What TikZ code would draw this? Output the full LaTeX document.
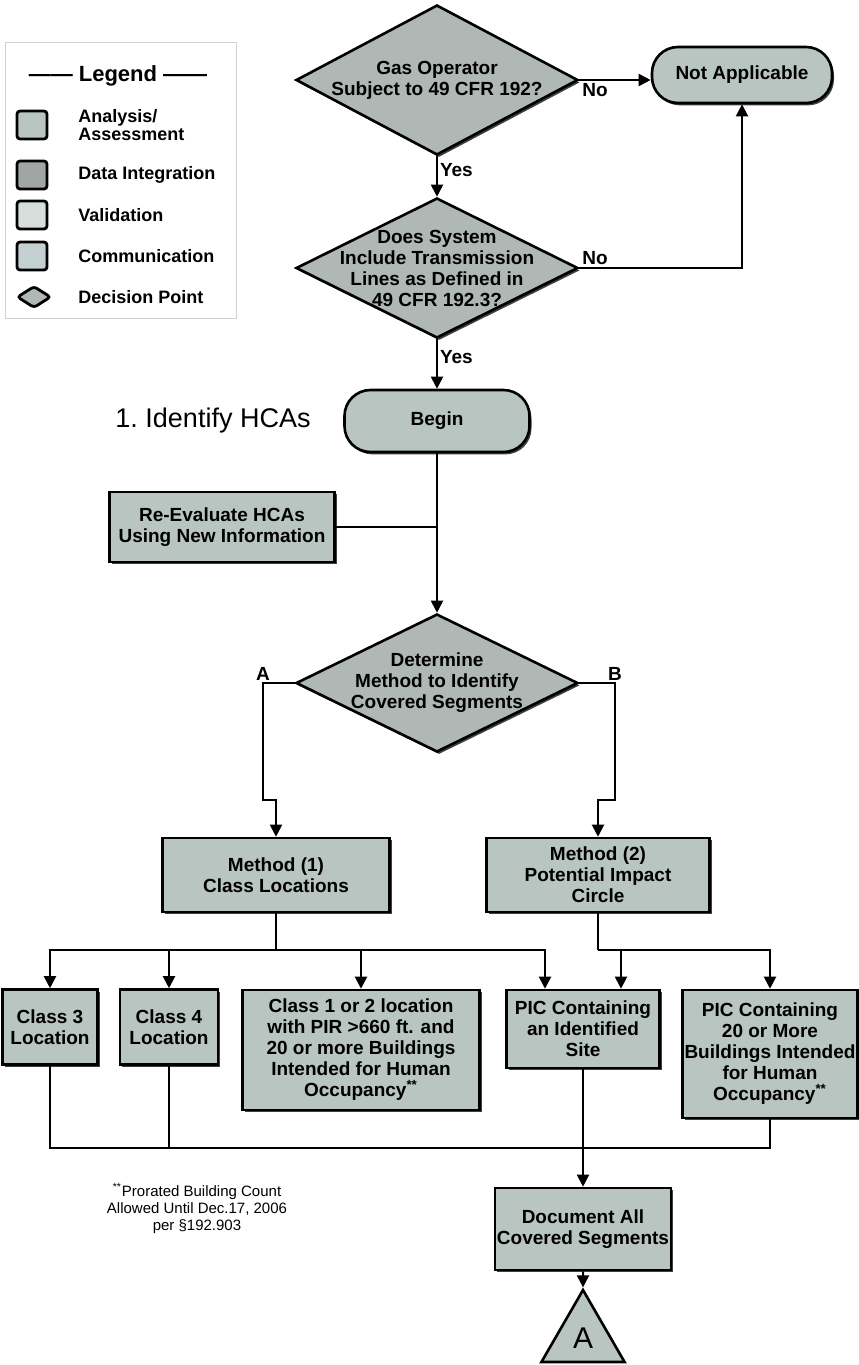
\documentclass[tikz,border=0pt]{standalone}
\usepackage{fontspec}
\setmainfont{Liberation Sans}
\usetikzlibrary{shapes.geometric, arrows.meta, shadows}
\definecolor{analysis}{HTML}{B8C5C1}
\definecolor{dataint}{HTML}{A0A6A4}
\definecolor{valid}{HTML}{D6DDDB}
\definecolor{comm}{HTML}{C3CFD0}
\definecolor{decis}{HTML}{B0B8B5}
\tikzset{
  box/.style={draw, line width=1.3pt, fill=analysis, align=center, inner sep=1pt,
      font=\bfseries\fontsize{9.5}{10.5}\selectfont,
      drop shadow={shadow xshift=1pt, shadow yshift=-1.2pt, fill=black, opacity=0.75}},
  term/.style={box, rounded corners=13pt},
  decision/.style={box, diamond, aspect=2, fill=decis, inner sep=-12pt},
  flow/.style={line width=1pt, -{Triangle[length=6pt, width=6pt]}},
  wire/.style={line width=1pt},
  lbl/.style={font=\bfseries\fontsize{9.5}{10}\selectfont, inner sep=1pt},
  key/.style={draw, line width=1.4pt, rounded corners=1.5pt, inner sep=0pt,
      minimum width=15pt, minimum height=14pt},
  keytext/.style={anchor=west, inner sep=0pt, font=\bfseries\fontsize{9}{7.5}\selectfont},
}
\begin{document}
\begin{tikzpicture}[x=0.5pt, y=-0.5pt]
  \useasboundingbox (0,0) rectangle (858,1365);
  \draw[black!18, line width=0.5pt] (5,42) rectangle (236,318);
  \node[lbl, font=\bfseries\fontsize{11}{13}\selectfont] (legtitle) at (118,76) {------ Legend ------};
  \node[key, fill=analysis] (key1) at (32,125) {};
  \node[keytext, align=left] (txt1) at (78,125) {Analysis/\\Assessment};
  \foreach \i/\y/\c/\t in {2/175/dataint/Data Integration, 3/215/valid/Validation, 4/256/comm/Communication} {
    \node[key, fill=\c] (key\i) at (32,\y) {};
    \node[keytext] (txt\i) at (78,\y) {\t};
  }
  \node[key, diamond, fill=decis, minimum width=17pt, minimum height=11pt] (key5) at (34,297) {};
  \node[keytext] (txt5) at (78,297) {Decision Point};

  \node[decision, minimum width=141pt, minimum height=75pt] (d1) at (437,80) {Gas Operator\\Subject to 49 CFR 192?};
  \node[term, minimum width=90pt, minimum height=28pt] (na) at (742,75) {Not Applicable};
  \node[decision, minimum width=141pt, minimum height=70pt] (d2) at (437,268) {Does System\\Include Transmission\\Lines as Defined in\\49 CFR 192.3?};
  \node[term, minimum width=92.5pt, minimum height=31pt] (begin) at (437,421) {Begin};
  \node[font=\fontsize{13.5}{16}\selectfont] (heading) at (213,421) {1.\ Identify HCAs};
  \node[box, minimum width=112.5pt, minimum height=35pt] (reeval) at (222,527) {Re-Evaluate HCAs\\Using New Information};
  \node[decision, minimum width=141pt, minimum height=69pt] (d3) at (437,683) {Determine\\Method to Identify\\Covered Segments};
  \node[box, minimum width=113.5pt, minimum height=37pt] (m1) at (276,875) {Method (1)\\Class Locations};
  \node[box, minimum width=111.5pt, minimum height=37pt] (m2) at (598,875) {Method (2)\\Potential Impact\\Circle};
  \node[box, minimum width=47.5pt, minimum height=37.5pt] (c3) at (50,1027) {Class 3\\Location};
  \node[box, minimum width=49pt, minimum height=37.5pt] (c4) at (169,1027) {Class 4\\Location};
  \node[box, minimum width=118.5pt, minimum height=60pt] (c12) at (361,1050) {Class 1 or 2 location\\with PIR >660 ft. and\\20 or more Buildings\\Intended for Human\\Occupancy\textsuperscript{**}};
  \node[box, minimum width=76.5pt, minimum height=39pt] (pic1) at (583,1029) {PIC Containing\\an Identified\\Site};
  \node[box, minimum width=87.5pt, minimum height=64pt] (pic2) at (770,1054) {PIC Containing\\20 or More\\Buildings Intended\\for Human\\Occupancy\textsuperscript{**}};
  \node[box, minimum width=72.5pt, minimum height=41pt] (doc) at (583,1229) {Document All\\Covered Segments};
  \node[draw, line width=1.3pt, fill=analysis, regular polygon, regular polygon sides=3, minimum size=48pt, inner sep=0pt,
      font=\fontsize{15}{15}\selectfont] (endA) at (583,1338) {A};
  \node[align=center, font=\fontsize{7.5}{8.5}\selectfont] (note) at (197,1208) {\textsuperscript{**}Prorated Building Count\\Allowed Until Dec.17, 2006\\per §192.903};

  \coordinate (ja) at (263,800);
  \coordinate (jb) at (615,800);
  \coordinate (b1) at (276,950);
  \coordinate (b2) at (598,950);
  \coordinate (b3) at (583,1148);

  \draw[flow] (d1.east) -- (d1.east -| na.west) node[lbl, below right, pos=0] (no1) {No};
  \draw[flow] (d1.south) -- (d2.north) node[lbl, right, pos=0.35] (yes1) {Yes};
  \draw[flow] (d2.east) -| (na.south) node[lbl, above right, pos=0] (no2) {No};
  \draw[flow] (d2.south) -- (begin.north) node[lbl, right, pos=0.35] (yes2) {Yes};
  \draw[flow] (begin.south) -- (d3.north);
  \draw[wire] (reeval.east) -- (reeval.east -| begin.south);
  \draw[flow] (d3.west) -| (ja) -| (m1.north);
  \draw[flow] (d3.east) -| (jb) -| (m2.north);
  \node[lbl, above] (labA) at (d3.west -| ja) {A};
  \node[lbl, above] (labB) at (d3.east -| jb) {B};
  \draw[wire] (m1.south) -- (b1);
  \foreach \n in {c3, c4, c12} \draw[flow] (b1) -| (\n.north);
  \draw[flow] (b1) -| ([xshift=-19pt]pic1.north);
  \draw[wire] (m2.south) -- (b2);
  \draw[flow] (b2) -| ([xshift=19pt]pic1.north);
  \draw[flow] (b2) -| (pic2.north);
  \draw[wire] (c3.south) |- (b3) -| (pic2.south);
  \draw[wire] (c4.south) -- (c4.south |- b3);
  \draw[flow] (pic1.south) -- (doc.north);
  \draw[flow] (doc.south) -- (endA.north);
\end{tikzpicture}
\end{document}
